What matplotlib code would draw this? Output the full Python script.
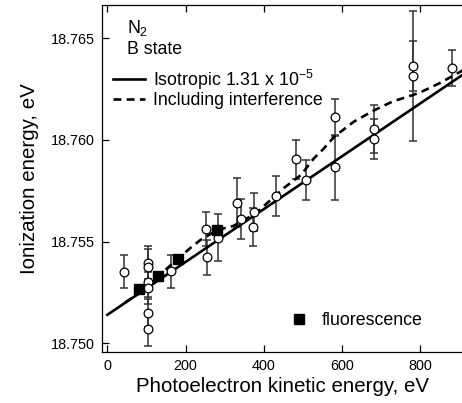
import matplotlib.pyplot as plt

plt.rcParams['font.family'] = ['Liberation Sans', 'DejaVu Sans']
plt.rcParams['mathtext.fontset'] = 'custom'
plt.rcParams['mathtext.rm'] = 'Liberation Sans'
plt.rcParams['mathtext.it'] = 'Liberation Sans'

# photoelectron data (open circles)
pe_x = [43, 103, 103, 103, 103, 103, 103, 163, 253, 255, 282, 332, 342, 372, 376,
        432, 482, 507, 583, 583, 681, 681, 781, 781, 880]
pe_y = [18.75353, 18.75396, 18.75377, 18.75303, 18.75273, 18.75150, 18.75070,
        18.75354, 18.75562, 18.75423, 18.75519, 18.75691, 18.75611, 18.75572,
        18.75644, 18.75724, 18.75905, 18.75803, 18.76111, 18.75865, 18.76054,
        18.76005, 18.76365, 18.76316, 18.76354]
pe_err = [0.00081, 0.00080, 0.00088, 0.00075, 0.00080, 0.00070, 0.00083,
          0.00081, 0.00085, 0.00087, 0.00115, 0.00120, 0.00100, 0.00092,
          0.00093, 0.00100, 0.00095, 0.00100, 0.00090, 0.00160, 0.00120,
          0.00100, 0.00123, 0.00320, 0.00090]

# fluorescence data (filled squares)
fl_x = [82, 129, 180, 281]
fl_y = [18.75267, 18.75332, 18.75415, 18.75557]

# isotropic fit line
iso_x = [0, 920]
iso_y = [18.7514, 18.76336]

# fit including interference
int_x = [45, 100, 125, 143, 180, 216, 238, 281, 322, 380, 450, 495, 528, 550,
         580, 630, 683, 730, 781, 803, 850, 910]
int_y = [18.7520, 18.7527, 18.7531, 18.75352, 18.75415, 18.75475, 18.75508,
         18.75557, 18.75577, 18.7564, 18.75762, 18.75828, 18.7591, 18.75951,
         18.76016, 18.7609, 18.76147, 18.7619, 18.76221, 18.76237, 18.7628,
         18.76344]

fig = plt.figure(figsize=(4.62, 4.03), dpi=100)
ax = fig.add_axes([101.5 / 462, 51 / 403, 362 / 462, 347 / 403])

ax.errorbar(pe_x, pe_y, yerr=pe_err, fmt='none', ecolor='#333333',
            elinewidth=1.1, capsize=2.6, capthick=1.1, zorder=2)
iso_line, = ax.plot(iso_x, iso_y, color='black', lw=1.9, zorder=3,
                    label='Isotropic 1.31 x 10$^{-5}$')
int_line, = ax.plot(int_x, int_y, color='black', lw=1.9, ls=(0, (3, 2)),
                    zorder=3, label='Including interference')
ax.plot(pe_x, pe_y, 'o', ms=6.3, mfc='white', mec='black', mew=0.9, zorder=4)
fl, = ax.plot(fl_x, fl_y, 's', ms=6.5, color='black', ls='none', zorder=5,
              label='fluorescence')

ax.set_xlim(-15, 910.4)
ax.set_ylim(18.74957, 18.76664)
ax.set_xticks([0, 200, 400, 600, 800])
ax.set_yticks([18.750, 18.755, 18.760, 18.765])
ax.set_yticklabels(['18.750', '18.755', '18.760', '18.765'])
ax.tick_params(direction='in', length=5, width=0.9, labelsize=10.4,
               top=True, right=False, pad=5)
for s in ax.spines.values():
    s.set_linewidth(0.9)

ax.set_xlabel('Photoelectron kinetic energy, eV', fontsize=14.8, labelpad=3)
ax.set_ylabel('Ionization energy, eV', fontsize=14.8, labelpad=8)

ax.text(0.071, 0.919, 'N$_2$', transform=ax.transAxes, fontsize=12.8,
        va='baseline')
ax.text(0.071, 0.858, 'B state', transform=ax.transAxes, fontsize=12.8,
        va='baseline')

leg1 = ax.legend(handles=[iso_line, int_line], loc='upper left',
                 bbox_to_anchor=(0.032, 0.82), frameon=False, fontsize=12.8,
                 handlelength=1.8, handletextpad=0.45, borderpad=0,
                 borderaxespad=0, labelspacing=0.05)
ax.add_artist(leg1)
ax.legend(handles=[fl], loc='center left', bbox_to_anchor=(0.52, 0.09),
          frameon=False, fontsize=12.8, handlelength=1.0, handletextpad=0.8,
          borderpad=0, borderaxespad=0)

plt.savefig('out.png', dpi=100)
